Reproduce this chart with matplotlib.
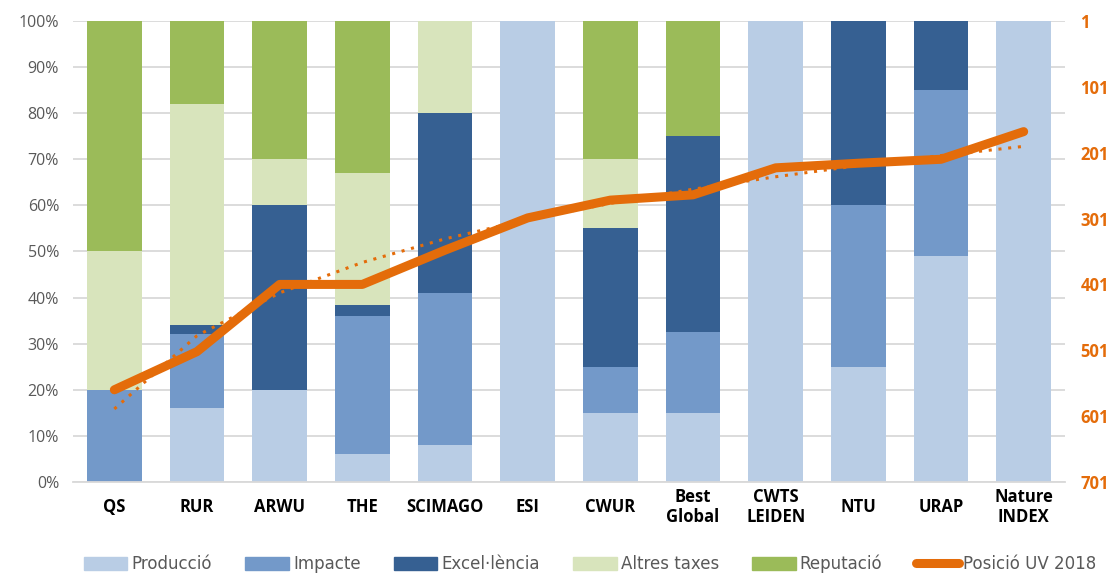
import numpy as np
import matplotlib
matplotlib.use("Agg")
import matplotlib.pyplot as plt
from matplotlib.patches import Patch
from matplotlib.lines import Line2D

# rankings and the weight of each criterion (%)
rankings = ["QS", "RUR", "ARWU", "THE", "SCIMAGO", "ESI", "CWUR", "Best\nGlobal",
            "CWTS\nLEIDEN", "NTU", "URAP", "Nature\nINDEX"]
produccio = [0, 16, 20, 6, 8, 100, 15, 15, 100, 25, 49, 100]
impacte = [20, 16, 0, 30, 33, 0, 10, 17.5, 0, 35, 36, 0]
excellencia = [0, 2, 40, 2.5, 39, 0, 30, 42.5, 0, 40, 15, 0]
altres = [30, 48, 10, 28.5, 20, 0, 15, 0, 0, 0, 0, 0]
reputacio = [50, 18, 30, 33, 0, 0, 30, 25, 0, 0, 0, 0]

# position of the UV in each ranking, 2018
posicio_uv = [561, 503, 401, 401, 349, 300, 273, 265, 224, 217, 211, 169]

series = [("Producció", produccio, "#B9CDE5"),
          ("Impacte", impacte, "#7399C9"),
          ("Excel·lència", excellencia, "#366092"),
          ("Altres taxes", altres, "#D8E4BC"),
          ("Reputació", reputacio, "#9BBB59")]
orange = "#E46C0A"
grey = "#595959"

fig = plt.figure(figsize=(11.18, 5.73), dpi=100)
ax = fig.add_axes([0.0653, 0.1588, 0.8873, 0.8046])

x = np.arange(len(rankings))
bottom = np.zeros(len(rankings))
for name, vals, col in series:
    vals = np.array(vals, dtype=float)
    ax.bar(x, vals, 0.665, bottom=bottom, color=col, zorder=2)
    bottom += vals

ax.set_xlim(-0.5, len(rankings) - 0.5)
ax.set_ylim(0, 100)
ax.set_yticks(np.arange(0, 101, 10))
ax.set_yticklabels([f"{v}%" for v in range(0, 101, 10)])
ax.yaxis.grid(True, color="#D9D9D9", lw=1.3, zorder=0)
ax.set_axisbelow(True)
ax.set_xticks(x)
ax.set_xticklabels(rankings, fontweight="bold", fontsize=12, family="Open Sans",
                   linespacing=1.15, va="center")
ax.tick_params(axis="x", length=0, pad=18)
ax.tick_params(axis="y", length=0, labelsize=11.5, labelcolor=grey, pad=10)
for lab in ax.get_yticklabels():
    lab.set_family("Open Sans")
for s in ["top", "left", "right"]:
    ax.spines[s].set_visible(False)
ax.spines["bottom"].set_color("#D9D9D9")
ax.spines["bottom"].set_linewidth(1.3)

# right axis for the position
ax2 = ax.twinx()
ax2.set_ylim(701, 1)
ax2.set_yticks(np.arange(1, 702, 100))
ax2.tick_params(axis="y", length=0, labelsize=12, labelcolor=orange, pad=11)
for lab in ax2.get_yticklabels():
    lab.set_family("Open Sans")
    lab.set_fontweight("bold")
for s in ["top", "left", "right", "bottom"]:
    ax2.spines[s].set_visible(False)

ax2.plot(x, posicio_uv, color=orange, lw=6.5, solid_capstyle="round",
         solid_joinstyle="round", zorder=4)
# logarithmic trend line
coef = np.polyfit(np.log(x + 1), posicio_uv, 1)
ax2.plot(x, coef[0] * np.log(x + 1) + coef[1], color=orange, lw=2.2,
         ls=(0, (1, 2.2)), zorder=3)

handles = [Patch(color=col, label=name) for name, vals, col in series]
handles.append(Line2D([0], [0], color=orange, lw=6.5, solid_capstyle="round",
                      label="Posició UV 2018"))
leg = fig.legend(handles=handles, loc="center", bbox_to_anchor=(0.528, 0.016), ncol=6,
                 frameon=False, handlelength=2.6, handleheight=0.8, columnspacing=2.0,
                 handletextpad=0.25,
                 prop={"family": ["Liberation Sans Narrow", "DejaVu Sans"], "size": 12})
for t in leg.get_texts():
    t.set_color(grey)

fig.savefig("out.png", dpi=100)
